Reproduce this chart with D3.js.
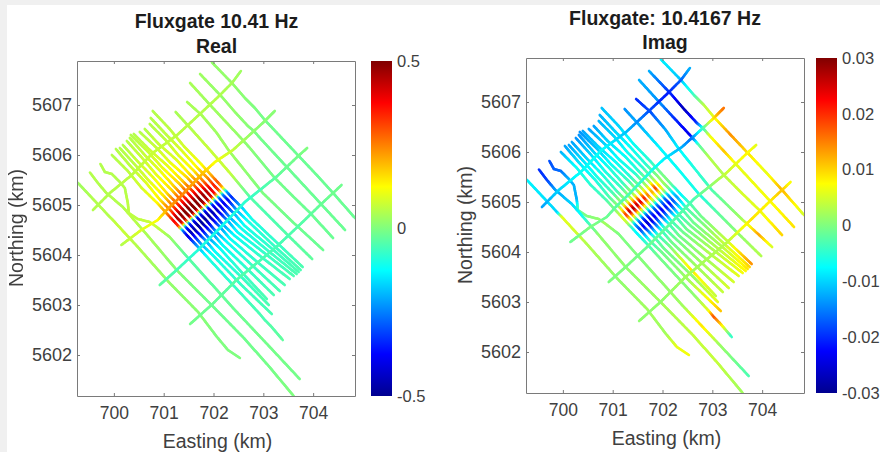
<!DOCTYPE html>
<html><head><meta charset="utf-8">
<style>
html,body{margin:0;padding:0;background:#f0f0f0;overflow:hidden}
svg{display:block;filter:blur(0.6px)}
text{font-family:"Liberation Sans",Arial,sans-serif;fill:#404040}
</style>
<script src="https://cdnjs.cloudflare.com/ajax/libs/d3/7.8.5/d3.min.js"></script>
</head><body><svg id="c" width="880" height="452"></svg>
<script>
const xTicks=[700,701,702,703,704];
const yTicks=[5602,5603,5604,5605,5606,5607];
const realBarTicks=[-0.5,0,0.5];
const imagBarTicks=[-0.03,-0.02,-0.01,0,0.01,0.02,0.03];
const titlesLeft=["Fluxgate 10.41 Hz","Real"];
const titlesRight=["Fluxgate: 10.4167 Hz","Imag"];
const jetColors=["#00008f","#0000ff","#00ffff","#ffff00","#ff0000","#800000"];
const jetPositions=[0,0.125,0.375,0.625,0.875,1];

// survey lines: easting (km)
const lineEast=[
[699.96,700.28,700.55,700.88,701.08,701.21,701.31,701.39,701.49,701.70,701.89,702.67,702.93,703.03,703.15,703.39],
[700.04,700.34,700.65,700.93,701.15,701.28,701.38,701.46,701.56,701.75,701.98,702.54,703.17],
[700.12,700.42,700.70,701.02,701.22,701.35,701.45,701.53,701.63,701.84,702.03,702.60,703.11],
[700.18,700.48,700.79,701.08,701.30,701.43,701.53,701.61,701.71,701.90,702.13,702.59,703.07],
[700.26,700.56,700.85,701.17,701.37,701.50,701.60,701.68,701.78,701.99,702.18,702.71,703.21],
[700.32,700.62,700.93,701.22,701.44,701.57,701.67,701.75,701.85,702.04,702.27,702.79,703.33],
[700.34,700.68,700.97,701.32,701.52,701.65,701.75,701.83,701.93,702.14,702.33,702.89,703.43],
[700.40,700.71,701.07,701.37,701.59,701.72,701.82,701.90,702.00,702.19,702.42,702.96,703.53],
[700.52,700.85,701.13,701.47,701.67,701.80,701.90,701.98,702.08,702.29,702.48,703.06,703.61],
[700.62,700.90,701.25,701.52,701.74,701.87,701.97,702.05,702.15,702.34,702.57,703.10,703.67],
[700.72,701.03,701.29,701.61,701.81,701.94,702.04,702.12,702.22,702.43,702.62,703.18,703.71],
[700.74,701.05,701.37,701.67,701.89,702.02,702.12,702.20,702.30,702.49,702.72,703.22,703.75],
[700.78,701.12,701.41,701.76,701.96,702.09,702.19,702.27,702.37,702.58,702.77,703.29,703.79],
[701.97,702.37,702.63,702.83,703.03,703.37,703.73,704.09,704.40,704.84],
[701.73,702.17,702.43,702.69,702.81,702.95,703.23,703.49,704.14,704.64],
[701.53,701.97,702.25,702.55,702.73,702.93,703.23,703.59,703.94,704.40],
[701.47,701.76,702.05,702.33,702.99,703.59,703.94,704.20],
[701.24,701.57,701.93,702.33,702.73,703.13,703.53,703.98],
[699.73,699.82,699.96,700.12,700.22,700.28,700.30,700.48,700.72,700.86,701.12,701.49,702.43,702.79,703.13,703.73],
[699.52,699.68,699.85,700.18,700.32,700.72,701.26,701.96,702.59,703.09,703.61],
[699.28,699.60,699.90,699.98,700.22,700.48,701.12,701.69,702.07,702.29,702.53],
[699.58,699.92,700.36,700.78,701.27,701.77,702.09,702.37,702.55],
[700.15,700.55,700.88,701.06,701.33,701.79,702.03,702.39,702.59,702.79,703.03,703.23],
[700.92,701.26,701.69,702.17,702.63,703.27,703.69,703.88],
[701.53,701.96,702.46,703.27,703.80,704.14,704.40,704.57]
];
// survey lines: northing (km)
const lineNorth=[
[5606.00,5605.68,5605.35,5605.03,5604.81,5604.67,5604.56,5604.48,5604.37,5604.15,5603.94,5603.10,5602.82,5602.70,5602.58,5602.30],
[5606.12,5605.77,5605.44,5605.10,5604.88,5604.73,5604.63,5604.54,5604.44,5604.22,5604.00,5603.42,5602.82],
[5606.14,5605.81,5605.49,5605.16,5604.94,5604.80,5604.69,5604.61,5604.50,5604.29,5604.07,5603.52,5603.00],
[5606.20,5605.87,5605.55,5605.22,5605.00,5604.86,5604.76,5604.67,5604.57,5604.35,5604.13,5603.63,5603.12],
[5606.28,5605.95,5605.61,5605.29,5605.07,5604.93,5604.82,5604.74,5604.63,5604.42,5604.20,5603.69,5603.20],
[5606.34,5606.00,5605.68,5605.36,5605.13,5604.99,5604.89,5604.80,5604.70,5604.48,5604.26,5603.78,5603.28],
[5606.40,5606.07,5605.75,5605.42,5605.20,5605.06,5604.95,5604.87,5604.76,5604.55,5604.33,5603.85,5603.40],
[5606.42,5606.11,5605.79,5605.49,5605.27,5605.12,5605.02,5604.93,5604.83,5604.61,5604.39,5603.96,5603.52],
[5606.46,5606.15,5605.85,5605.55,5605.33,5605.19,5605.08,5605.00,5604.89,5604.68,5604.46,5604.01,5603.58],
[5606.52,5606.22,5605.91,5605.62,5605.40,5605.26,5605.15,5605.06,5604.96,5604.74,5604.52,5604.08,5603.62],
[5606.62,5606.31,5606.00,5605.68,5605.46,5605.32,5605.21,5605.13,5605.02,5604.81,5604.59,5604.12,5603.66],
[5606.74,5606.41,5606.08,5605.75,5605.53,5605.38,5605.28,5605.19,5605.09,5604.87,5604.65,5604.18,5603.70],
[5606.88,5606.52,5606.17,5605.81,5605.59,5605.45,5605.34,5605.26,5605.15,5604.94,5604.72,5604.23,5603.76],
[5607.85,5607.44,5607.14,5606.94,5606.70,5606.34,5605.96,5605.58,5605.24,5604.74],
[5607.62,5607.16,5606.86,5606.58,5606.48,5606.32,5606.02,5605.74,5605.04,5604.50],
[5607.44,5606.96,5606.66,5606.34,5606.14,5605.90,5605.54,5605.18,5604.84,5604.34],
[5607.06,5606.80,5606.46,5606.06,5605.24,5604.66,5604.34,5604.10],
[5606.86,5606.50,5606.10,5605.64,5605.16,5604.76,5604.36,5603.92],
[5605.82,5605.66,5605.62,5605.46,5605.34,5605.04,5604.84,5604.72,5604.66,5604.56,5604.36,5603.94,5602.90,5602.52,5602.16,5601.52],
[5605.65,5605.44,5605.24,5604.96,5604.80,5604.34,5603.70,5603.00,5602.36,5601.80,5601.18],
[5605.44,5605.10,5604.78,5604.70,5604.44,5604.16,5603.44,5602.86,5602.36,5602.10,5601.94],
[5604.90,5605.24,5605.60,5606.04,5606.40,5606.86,5607.16,5607.44,5607.68],
[5604.20,5604.50,5604.70,5604.90,5605.16,5605.64,5605.86,5606.10,5606.28,5606.46,5606.68,5606.88],
[5603.40,5603.70,5604.10,5604.58,5605.06,5605.57,5605.97,5606.14],
[5602.62,5603.00,5603.50,5604.17,5604.67,5605.00,5605.24,5605.40]
];
// real component along each line
const lineReal=[
[.05,.06,.08,.13,.25,.38,.32,-.25,-.42,-.2,-.1,-.06,-.05,-.05,-.04,-.03],
[.05,.06,.09,.14,.29,.46,.4,-.32,-.46,-.22,-.11,-.07,-.05],
[.05,.06,.09,.15,.31,.49,.44,-.35,-.48,-.23,-.12,-.07,-.05],
[.05,.07,.1,.16,.33,.5,.47,-.38,-.5,-.24,-.12,-.07,-.05],
[.05,.07,.1,.16,.34,.5,.48,-.38,-.5,-.24,-.12,-.07,-.05],
[.05,.07,.1,.17,.34,.5,.48,-.38,-.5,-.24,-.12,-.07,-.05],
[.05,.07,.1,.17,.34,.5,.48,-.38,-.49,-.24,-.12,-.07,-.05],
[.05,.07,.1,.16,.33,.5,.46,-.36,-.47,-.23,-.12,-.07,-.05],
[.05,.07,.1,.16,.31,.48,.44,-.34,-.45,-.22,-.12,-.07,-.05],
[.05,.07,.09,.15,.29,.45,.41,-.31,-.42,-.21,-.11,-.07,-.05],
[.05,.06,.09,.14,.26,.4,.36,-.28,-.4,-.2,-.11,-.07,-.05],
[.05,.06,.09,.13,.24,.35,.3,-.25,-.38,-.19,-.1,-.07,-.05],
[.05,.06,.08,.12,.2,.3,.2,-.2,-.34,-.17,-.1,-.07,-.05],
[.02,.02,.01,0,-.01,-.015,-.02,-.02,-.02,-.02],
[.03,.02,.02,.01,0,-.01,-.015,-.02,-.02,-.02],
[.04,.03,.03,.02,.01,0,-.01,-.015,-.02,-.02],
[.04,.04,.03,.03,0,-.015,-.02,-.02],
[.04,.05,.07,.07,-.04,-.05,-.04,-.03],
[.05,.05,.05,.05,.05,.06,.06,.06,.07,.07,.03,-.04,-.02,-.015,-.01,-.01],
[.05,.05,.05,.05,.06,.04,.01,-.015,-.015,-.01,0],
[.03,.05,.05,.06,.07,.05,.02,.01,0,0,0],
[.05,.05,.06,.07,.06,.05,.05,.04,.03],
[.05,.09,.12,.2,.25,.19,.12,.07,.04,.02,.01,.01],
[-.03,-.05,-.09,-.11,-.08,-.03,-.01,0],
[-.01,-.02,-.04,-.055,-.04,-.025,-.015,-.015]
];
// imaginary component along each line
const lineImag=[
[-.012,-.007,-.005,-.003,.001,.006,.003,-.005,-.008,-.004,-.001,.001,.006,.018,.012,-.005],
[-.013,-.009,-.006,-.003,.002,.02,.005,-.012,-.019,-.004,-.001,.002,.011],
[-.013,-.009,-.006,-.003,.003,.028,.005,-.014,-.024,-.004,-.001,.001,.006],
[-.013,-.01,-.006,-.004,.003,.03,.005,-.016,-.027,-.005,-.001,.009,.004],
[-.014,-.01,-.006,-.004,.003,.028,.005,-.016,-.026,-.005,-.001,.002,.004],
[-.014,-.01,-.006,-.004,.003,.026,.005,-.015,-.024,-.004,-.001,.002,.005],
[-.014,-.011,-.007,-.004,.003,.022,.004,-.015,-.024,-.004,-.001,.002,.005],
[-.013,-.01,-.007,-.005,.002,.016,.004,-.015,-.024,-.004,-.001,.003,.006],
[-.013,-.01,-.007,-.005,.002,.013,.003,-.014,-.022,-.004,-.001,.003,.007],
[-.013,-.01,-.007,-.005,.002,.02,.003,-.015,-.023,-.004,-.001,.003,.008],
[-.012,-.01,-.007,-.005,.001,.01,.002,-.012,-.018,-.003,-.001,.003,.009],
[-.012,-.01,-.007,-.005,0,.002,0,-.008,-.013,-.003,-.001,.004,.01],
[-.011,-.01,-.007,-.005,-.001,0,-.002,-.005,-.008,-.003,-.001,.004,.014],
[-.008,-.011,-.004,.003,.006,.014,.009,.006,.012,.005],
[-.012,-.02,-.027,-.02,-.006,.006,.011,.006,.007,.009],
[-.012,-.014,-.02,-.024,-.003,.003,.003,.005,.006,.01],
[-.02,-.018,-.013,-.008,-.003,.002,.013,.005],
[-.014,-.012,-.008,-.007,-.006,-.002,.001,.003],
[-.018,-.017,-.016,-.012,-.012,-.012,-.002,0,.001,.002,0,0,.002,.009,.002,-.003],
[-.02,-.019,-.013,-.01,-.008,.001,.001,.002,.004,.004,.002],
[-.008,-.009,-.01,.006,.005,.003,.001,.002,.002,.006,.007],
[-.013,-.01,-.007,-.007,-.011,-.018,-.021,-.017,-.012],
[-.001,0,-.001,-.002,-.003,-.006,-.008,-.012,-.016,-.005,.009,.016],
[0,0,-.001,-.002,-.003,.004,.008,.006],
[.001,.001,.002,.003,.009,.008,.011,.007]
];

const svg=d3.select("#c");
svg.append("rect").attr("x",7).attr("y",5).attr("width",873).attr("height",447).attr("fill","#fff");
const defs=svg.append("defs");
const panels=[
 {id:"re",left:77,right:355,top:61,bottom:396,values:lineReal,limit:0.5,barTicks:realBarTicks,
  titles:titlesLeft,titleX:216.5,titleY:[28,53],barL:371,barR:392,xLabelY:448,yLabelX:23,yLabelC:228},
 {id:"im",left:526,right:804,top:58,bottom:393,values:lineImag,limit:0.03,barTicks:imagBarTicks,
  titles:titlesRight,titleX:665,titleY:[25,49],barL:816,barR:837,xLabelY:445,yLabelX:472,yLabelC:225}
];
const grey="#7a7a7a";
const fontFamily='"Liberation Sans",Arial,sans-serif';
panels.forEach(p=>{
 const x=d3.scaleLinear().domain([699.26,704.84]).range([p.left,p.right]);
 const y=d3.scaleLinear().domain([5601.18,5607.88]).range([p.bottom,p.top]);
 const color=d3.scaleLinear().domain(jetPositions.map(t=>(t*2-1)*p.limit)).range(jetColors).clamp(true);
 defs.append("clipPath").attr("id","clip"+p.id).append("rect")
  .attr("x",p.left).attr("y",p.top).attr("width",p.right-p.left).attr("height",p.bottom-p.top);
 const g=svg.append("g");
 const plot=g.append("g").attr("clip-path",`url(#clip${p.id})`);
 lineEast.forEach((es,k)=>{
  const ns=lineNorth[k],vs=p.values[k];
  const segs=[];
  for(let i=0;i<es.length-1;i++){
   const steps=Math.max(2,Math.ceil(Math.hypot(x(es[i+1])-x(es[i]),y(ns[i+1])-y(ns[i]))/2));
   for(let s=0;s<steps;s++){
    const a=s/steps,b=(s+1)/steps;
    segs.push({x1:es[i]+(es[i+1]-es[i])*a,y1:ns[i]+(ns[i+1]-ns[i])*a,
               x2:es[i]+(es[i+1]-es[i])*b,y2:ns[i]+(ns[i+1]-ns[i])*b,
               v:vs[i]+(vs[i+1]-vs[i])*(a+b)/2});
   }
  }
  plot.append("g").selectAll("line").data(segs).join("line")
   .attr("x1",d=>x(d.x1)).attr("y1",d=>y(d.y1)).attr("x2",d=>x(d.x2)).attr("y2",d=>y(d.y2))
   .attr("stroke",d=>color(d.v)).attr("stroke-width",2.6).attr("stroke-linecap","round");
 });
 const style=(a,size,hide)=>{
  a.select(".domain").attr("stroke",grey).attr("stroke-width",1);
  a.selectAll(".tick line").attr("stroke",grey);
  a.selectAll("text").attr("font-size",size).attr("fill","#404040").attr("font-family",fontFamily);
  if(hide)a.selectAll("text").remove();
 };
 const ax=g.append("g").attr("transform",`translate(0,${p.bottom})`)
  .call(d3.axisBottom(x).tickValues(xTicks).tickSizeInner(-3).tickSizeOuter(0).tickPadding(11).tickFormat(d3.format("d")));
 style(ax,17.5);
 const axT=g.append("g").attr("transform",`translate(0,${p.top})`)
  .call(d3.axisTop(x).tickValues(xTicks).tickSizeInner(-3).tickSizeOuter(0));
 style(axT,17.5,true);
 const ay=g.append("g").attr("transform",`translate(${p.left},0)`)
  .call(d3.axisLeft(y).tickValues(yTicks).tickSizeInner(-3).tickSizeOuter(0).tickPadding(5).tickFormat(d3.format("d")));
 style(ay,18);
 const ayR=g.append("g").attr("transform",`translate(${p.right},0)`)
  .call(d3.axisRight(y).tickValues(yTicks).tickSizeInner(-3).tickSizeOuter(0));
 style(ayR,18,true);
 p.titles.forEach((t,i)=>g.append("text").attr("x",p.titleX).attr("y",p.titleY[i]).attr("text-anchor","middle")
  .attr("font-size",19.5).attr("font-weight","bold").style("fill","#1c1c1c").text(t));
 g.append("text").attr("x",(p.left+p.right)/2+1.5).attr("y",p.xLabelY).attr("text-anchor","middle").attr("font-size",19.5).text("Easting (km)");
 g.append("text").attr("transform",`translate(${p.yLabelX},${p.yLabelC}) rotate(-90)`).attr("text-anchor","middle").attr("font-size",19.5).text("Northing (km)");
 const grad=defs.append("linearGradient").attr("id","grad"+p.id).attr("x1",0).attr("x2",0).attr("y1",1).attr("y2",0);
 jetPositions.forEach((t,i)=>grad.append("stop").attr("offset",t).attr("stop-color",jetColors[i]));
 g.append("rect").attr("x",p.barL).attr("y",p.top).attr("width",p.barR-p.barL).attr("height",p.bottom-p.top).attr("fill",`url(#grad${p.id})`);
 const cs=d3.scaleLinear().domain([-p.limit,p.limit]).range([p.bottom,p.top]);
 const ac=g.append("g").attr("transform",`translate(${p.barR},0)`)
  .call(d3.axisRight(cs).tickValues(p.barTicks).tickSize(0).tickPadding(5).tickFormat(d=>d===0?"0":String(d)));
 ac.select(".domain").remove();
 ac.selectAll("text").attr("font-size",16.5).attr("fill","#404040").attr("font-family",fontFamily);
});
</script></body></html>
